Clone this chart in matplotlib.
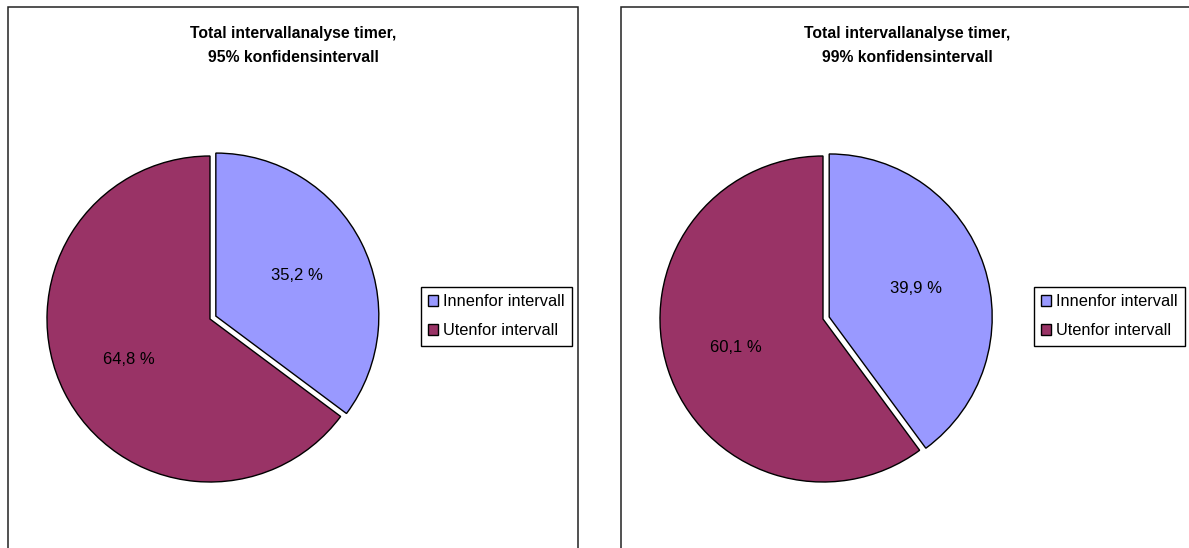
import matplotlib
matplotlib.use("Agg")
import matplotlib.pyplot as plt
from matplotlib.patches import Rectangle

plt.rcParams['font.family'] = ['Liberation Sans', 'DejaVu Sans']

categories = ["Innenfor intervall", "Utenfor intervall"]
titles = ["Total intervallanalyse timer,\n95% konfidensintervall",
          "Total intervallanalyse timer,\n99% konfidensintervall"]
values_95 = [35.2, 64.8]
values_99 = [39.9, 60.1]
colors = ["#9999FF", "#993366"]

W, H = 1189, 548
fig = plt.figure(figsize=(W / 100, H / 100), dpi=100)

def px_rect(x0, y0, x1, y1):
    return [x0 / W, 1 - y1 / H, (x1 - x0) / W, (y1 - y0) / H]

panels = [
    dict(box=(8, 7, 578, 560), center=(210, 319), title_x=293, legend=(421, 287), vals=values_95, title=titles[0]),
    dict(box=(621, 7, 1200, 560), center=(823, 319), title_x=907, legend=(1034, 287), vals=values_99, title=titles[1]),
]

R = 163
L = 200
for p in panels:
    x0, y0, x1, y1 = p["box"]
    fig.patches.append(Rectangle((x0 / W, 1 - y1 / H), (x1 - x0) / W, (y1 - y0) / H,
                                 transform=fig.transFigure, fill=False,
                                 edgecolor="#222222", linewidth=1.1))
    fig.text(p["title_x"] / W, 1 - 26 / H, p["title"], ha="center", va="top",
             fontsize=11.3, fontweight="bold", linespacing=1.75)
    cx, cy = p["center"]
    ax = fig.add_axes(px_rect(cx - L, cy - L, cx + L, cy + L))
    wedges, texts, autotexts = ax.pie(
        p["vals"], colors=colors, startangle=90, counterclock=False,
        explode=[0.04, 0], autopct=lambda v: f"{v:.1f} %".replace(".", ","),
        pctdistance=0.56, radius=1,
        wedgeprops=dict(edgecolor="black", linewidth=1.0),
        textprops=dict(fontsize=12, color="black"))
    ax.set_xlim(-L / R, L / R)
    ax.set_ylim(-L / R, L / R)
    ax.axis("off")
    lx, ly = p["legend"]
    fig.legend(wedges, categories, loc="upper left",
               bbox_to_anchor=(lx / W, 1 - ly / H), bbox_transform=fig.transFigure,
               fontsize=11.8, frameon=True, fancybox=False, edgecolor="black",
               framealpha=1, borderaxespad=0, handlelength=0.6, handleheight=0.6,
               handletextpad=0.3, borderpad=0.45, labelspacing=0.85)

fig.savefig("out.png", dpi=100)
